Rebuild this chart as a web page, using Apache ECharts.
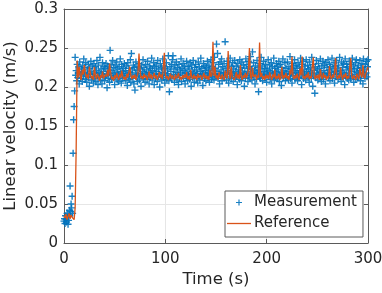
<!DOCTYPE html>
<html>
<head>
<meta charset="utf-8">
<script src="https://cdn.jsdelivr.net/npm/echarts@6/dist/echarts.min.js"></script>
<style>html,body{margin:0;padding:0;background:#fff;}#c{width:382px;height:293px;}</style>
</head>
<body>
<div id="c"></div>
<script>
// Measurement samples every 0.5 s, starting at t = 0
const measStep = 0.5;
const measurement = [
.028,.031,.025,.035,.030,.027,.038,.033,.024,.029,.036,.042,.073,.040,.050,.045,.060,.038,.115,.158,
.175,.195,.238,.215,.221,.208,.229,.212,.218,.226,.204,.232,.216,.211,.223,.219,.207,.228,.214,.236,
.219,.225,.210,.231,.214,.206,.222,.217,.229,.212,.201,.224,.216,.233,.209,.220,.227,.213,.205,.230,
.218,.211,.226,.207,.221,.234,.215,.203,.228,.219,.212,.238,.209,.223,.217,.204,.231,.214,.220,.226,
.208,.224,.213,.230,.216,.199,.227,.211,.222,.218,.206,.247,.215,.229,.210,.221,.234,.212,.225,.217,
.203,.228,.214,.219,.232,.209,.223,.216,.207,.226,.213,.236,.218,.205,.229,.220,.211,.224,.215,.230,
.212,.221,.208,.227,.217,.202,.231,.214,.224,.210,.219,.235,.206,.243,.216,.222,.211,.228,.204,.225,
.196,.218,.232,.213,.221,.207,.226,.215,.230,.209,.223,.217,.201,.228,.214,.220,.235,.211,.225,.218,
.206,.229,.216,.222,.210,.233,.214,.219,.204,.227,.212,.224,.218,.237,.209,.221,.215,.231,.203,.226,
.217,.211,.228,.220,.207,.234,.213,.223,.216,.200,.230,.214,.225,.209,.219,.236,.212,.227,.218,.205,
.224,.215,.231,.210,.222,.217,.240,.208,.194,.226,.213,.220,.229,.211,.235,.240,.216,.223,.206,.228,
.214,.219,.232,.209,.225,.216,.203,.229,.212,.222,.218,.236,.207,.224,.215,.230,.211,.221,.227,.204,
.219,.213,.233,.217,.208,.226,.214,.223,.210,.231,.216,.201,.228,.220,.212,.234,.218,.206,.225,.215,
.229,.211,.222,.217,.205,.232,.214,.226,.209,.220,.237,.213,.224,.216,.202,.230,.218,.211,.227,.221,
.208,.225,.215,.233,.212,.219,.228,.206,.223,.217,.235,.210,.226,.214,.221,.231,.209,.238,.216,.224,
.213,.255,.220,.243,.211,.229,.217,.204,.232,.215,.222,.236,.208,.226,.214,.219,.230,.212,.258,.218,
.224,.209,.233,.216,.221,.205,.228,.213,.237,.219,.211,.226,.217,.231,.207,.223,.215,.234,.212,.220,
.227,.214,.203,.230,.218,.222,.210,.235,.216,.225,.208,.232,.219,.213,.228,.217,.201,.224,.211,.236,
.215,.229,.220,.207,.233,.214,.226,.212,.239,.218,.223,.209,.245,.216,.231,.213,.221,.204,.227,.219,
.210,.234,.217,.225,.194,.222,.214,.230,.211,.238,.216,.227,.208,.220,.233,.215,.224,.212,.229,.218,
.206,.223,.216,.235,.213,.221,.228,.210,.219,.231,.204,.226,.217,.214,.237,.209,.224,.220,.212,.230,
.218,.227,.211,.222,.233,.207,.216,.229,.214,.202,.225,.219,.236,.212,.221,.215,.231,.208,.224,.217,
.213,.232,.220,.209,.226,.216,.239,.211,.223,.218,.205,.230,.214,.227,.221,.235,.210,.219,.228,.215,
.224,.208,.231,.217,.212,.226,.221,.237,.214,.203,.229,.218,.233,.211,.222,.216,.227,.209,.235,.220,
.215,.228,.213,.223,.206,.232,.219,.225,.211,.238,.217,.201,.229,.214,.221,.192,.226,.212,.234,.218,
.222,.209,.230,.216,.224,.213,.236,.219,.207,.227,.215,.233,.210,.221,.228,.217,.204,.231,.214,.225,
.218,.235,.212,.222,.229,.208,.226,.215,.219,.237,.211,.224,.216,.231,.205,.227,.220,.213,.234,.217,
.223,.210,.228,.216,.238,.213,.221,.207,.232,.219,.225,.212,.230,.217,.203,.236,.214,.222,.229,.211,
.226,.218,.209,.233,.215,.224,.211,.229,.220,.237,.213,.227,.206,.222,.216,.231,.210,.235,.219,.224,
.212,.228,.217,.221,.234,.208,.225,.214,.230,.219,.204,.236,.216,.223,.211,.229,.218,.233,.213,.226,
.235
];
// Reference samples every 1 s, starting at t = 0
const refStep = 1;
const reference = [
.035,.032,.037,.030,.034,.038,.031,.036,.033,.035,
.030,.045,.120,.234,.212,.226,.214,.209,.222,.216,
.228,.219,.212,.216,.210,.226,.218,.211,.214,.209,
.226,.215,.210,.217,.213,.208,.215,.212,.220,.211,
.209,.216,.213,.222,.214,.230,.219,.210,.213,.208,
.215,.211,.218,.213,.209,.216,.212,.221,.214,.210,
.213,.209,.217,.212,.219,.226,.214,.210,.215,.211,
.216,.209,.213,.218,.243,.222,.211,.214,.210,.217,
.212,.215,.209,.213,.220,.211,.216,.210,.214,.218,
.211,.215,.209,.213,.219,.212,.216,.210,.225,.244,
.216,.211,.214,.209,.213,.217,.210,.215,.212,.209,
.216,.211,.214,.218,.210,.213,.209,.215,.211,.216,
.212,.219,.210,.214,.209,.222,.213,.210,.216,.211,
.214,.209,.217,.212,.210,.215,.209,.213,.218,.211,
.215,.210,.214,.209,.222,.213,.216,.258,.214,.226,
.211,.215,.209,.219,.213,.210,.216,.212,.209,.221,
.214,.211,.246,.217,.210,.226,.213,.215,.209,.214,
.219,.211,.216,.210,.228,.213,.209,.215,.212,.218,
.211,.216,.222,.250,.214,.210,.225,.213,.211,.216,
.209,.215,.212,.257,.213,.218,.210,.214,.209,.216,
.211,.215,.210,.219,.213,.209,.216,.212,.222,.210,
.214,.211,.217,.209,.213,.226,.210,.215,.212,.218,
.211,.214,.209,.222,.216,.239,.213,.210,.215,.211,
.217,.212,.209,.224,.215,.239,.211,.214,.210,.216,
.212,.219,.210,.214,.211,.226,.238,.213,.210,.215,
.211,.216,.209,.223,.213,.210,.218,.212,.215,.209,
.214,.211,.227,.213,.210,.216,.212,.219,.237,.213,
.210,.215,.211,.225,.214,.209,.216,.212,.218,.210,
.214,.211,.226,.237,.213,.210,.215,.212,.209,.217,
.213,.210,.224,.216,.212,.228,.214,.211,.218,.222,
.226
];
const seriesNames = ['Measurement', 'Reference'];
const xTicks = [0, 100, 200, 300];
const yTicks = [0, 0.05, 0.1, 0.15, 0.2, 0.25, 0.3];
const xLabel = 'Time (s)';
const yLabel = 'Linear velocity (m/s)';

const measData = measurement.map((v, i) => [i * measStep, v]);
const refData = reference.map((v, i) => [i * refStep, v]);

const FONT = 'DejaVu Sans';
const TXT = '#262626';
const BOX = '#5a5a5a';
const plus = 'path://M4,0h2v4h4v2h-4v4h-2v-4h-4v-2h4z';
const bar = 'path://M0,0h24v1.3h-24z';

const chart = echarts.init(document.getElementById('c'), null, {renderer: 'canvas'});
const axisCommon = {
  axisLine: {show: true, onZero: false, lineStyle: {color: BOX, width: 1}},
  axisTick: {show: true, inside: true, length: 4, lineStyle: {color: BOX}},
};
chart.setOption({
  animation: false,
  backgroundColor: '#fff',
  grid: {left: 64, top: 9, right: 14, bottom: 50, containLabel: false, outerBoundsMode: 'none'},
  legend: {
    orient: 'vertical', left: 225, top: 191,
    data: [
      {name: seriesNames[0], icon: plus, itemStyle: {color: '#0072BD'}},
      {name: seriesNames[1], icon: bar, itemStyle: {color: '#D95319'}}
    ],
    symbolKeepAspect: true,
    itemWidth: 24, itemHeight: 6, itemGap: 6,
    padding: [4, 6, 6, 2],
    borderColor: BOX, borderWidth: 1, backgroundColor: '#fff',
    textStyle: {fontFamily: FONT, fontSize: 15, color: TXT, padding: [0, 0, 0, -2]}
  },
  xAxis: [
    Object.assign({
      type: 'value', min: xTicks[0], max: xTicks[xTicks.length - 1], interval: 100,
      position: 'bottom',
      name: xLabel, nameLocation: 'middle', nameGap: 28, nameMoveOverlap: false,
      nameTextStyle: {fontFamily: FONT, fontSize: 16.5, color: TXT},
      axisLabel: {fontFamily: FONT, fontSize: 15, color: TXT, margin: 9},
      splitLine: {show: true, lineStyle: {color: '#e6e6e6', width: 1}}
    }, axisCommon),
    Object.assign({
      type: 'value', min: xTicks[0], max: xTicks[xTicks.length - 1], interval: 100,
      position: 'top', axisLabel: {show: false}, splitLine: {show: false}
    }, axisCommon)
  ],
  yAxis: [
    Object.assign({
      type: 'value', min: yTicks[0], max: yTicks[yTicks.length - 1], interval: 0.05,
      position: 'left',
      name: yLabel, nameLocation: 'middle', nameGap: 45, nameRotate: 90, nameMoveOverlap: false,
      nameTextStyle: {fontFamily: FONT, fontSize: 16.5, color: TXT},
      axisLabel: {fontFamily: FONT, fontSize: 15, color: TXT, margin: 6,
        formatter: v => String(+v.toFixed(2))},
      splitLine: {show: true, lineStyle: {color: '#e6e6e6', width: 1}}
    }, axisCommon),
    Object.assign({
      type: 'value', min: yTicks[0], max: yTicks[yTicks.length - 1], interval: 0.05,
      position: 'right', axisLabel: {show: false}, splitLine: {show: false}
    }, axisCommon)
  ],
  series: [
    {
      name: seriesNames[0], type: 'scatter', data: measData,
      symbol: plus, symbolSize: 7,
      itemStyle: {color: '#0072BD', opacity: 0.9},
      z: 2, large: false
    },
    {
      name: seriesNames[1], type: 'line', data: refData,
      showSymbol: false, symbol: 'none',
      lineStyle: {color: '#D95319', width: 1.3},
      itemStyle: {color: '#D95319'},
      z: 3
    }
  ]
});
</script>
</body>
</html>
